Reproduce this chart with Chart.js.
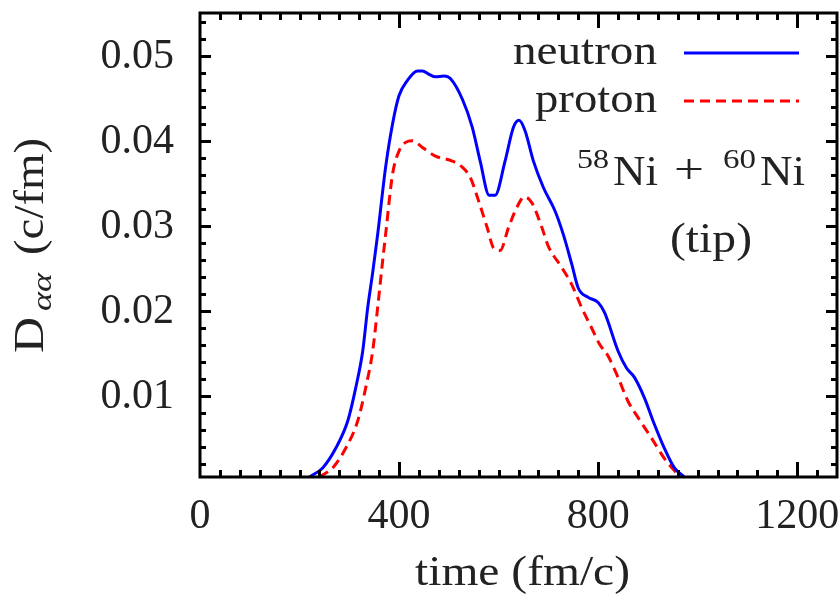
<!DOCTYPE html>
<html>
<head>
<meta charset="utf-8">
<script src="https://cdn.jsdelivr.net/npm/chart.js@4/dist/chart.umd.min.js"></script>
<style>
  html, body { margin: 0; padding: 0; background: #fff; }
  canvas { display: block; }
</style>
</head>
<body>
<canvas id="dChart" width="840" height="599"></canvas>
<script>
// ---- DATA ----
var neutronTime  = [220, 247, 273, 297, 313, 327, 337, 347, 357, 373, 387, 400, 417, 437, 447, 460, 473, 490, 503, 527, 547, 563, 581, 593, 613, 630, 641, 653, 670, 690, 713, 730, 747, 760, 780, 800, 813, 840, 857, 873, 893, 913, 933, 953, 973];
var neutronValue = [0.0005, 0.0016, 0.0039, 0.0071, 0.0110, 0.0153, 0.0204, 0.0245, 0.0290, 0.0369, 0.0420, 0.0453, 0.0471, 0.0482, 0.0482, 0.0478, 0.0475, 0.0476, 0.0473, 0.0449, 0.0416, 0.0376, 0.0336, 0.0336, 0.0376, 0.0416, 0.0424, 0.0412, 0.0376, 0.0345, 0.0318, 0.0290, 0.0255, 0.0227, 0.0216, 0.0210, 0.0198, 0.0153, 0.0133, 0.0122, 0.0098, 0.0067, 0.0039, 0.0016, 0.0005];

var protonTime  = [240, 267, 293, 317, 333, 347, 357, 367, 373, 387, 400, 413, 427, 447, 473, 507, 527, 543, 560, 577, 590, 603, 620, 637, 652, 667, 687, 700, 727, 747, 767, 787, 803, 820, 840, 860, 880, 907, 933, 960];
var protonValue = [0.0005, 0.0016, 0.0039, 0.0071, 0.0110, 0.0153, 0.0204, 0.0259, 0.0290, 0.0361, 0.0388, 0.0398, 0.0400, 0.0392, 0.0382, 0.0376, 0.0369, 0.0357, 0.0329, 0.0298, 0.0274, 0.0271, 0.0298, 0.0322, 0.0334, 0.0327, 0.0298, 0.0276, 0.0251, 0.0231, 0.0204, 0.0180, 0.0161, 0.0147, 0.0122, 0.0094, 0.0075, 0.0051, 0.0027, 0.0008];

var xTicks = [0, 400, 800, 1200];
var yTicks = [0.01, 0.02, 0.03, 0.04, 0.05];
var seriesLabels = ['neutron', 'proton'];

var SERIF = '"Liberation Serif", "DejaVu Serif", serif';
var TXT = '#222';

function toPoints(ts, vs){
  return ts.map(function(t, i){ return {x: t, y: vs[i]}; });
}

// draw text from x (left) stretched to width w -- the original uses a wide TeX font
function fitText(ctx, text, x, y, w){
  var m = ctx.measureText(text).width;
  ctx.save();
  ctx.translate(x, y);
  ctx.scale(w / m, 1);
  ctx.textAlign = 'left';
  ctx.fillText(text, 0, 0);
  ctx.restore();
}

// frame with inward ticks on all four sides, gnuplot style, plus tick labels
var framePlugin = {
  id: 'frame',
  afterDatasetsDraw: function(chart){
    var ctx = chart.ctx, a = chart.chartArea;
    var xs = chart.scales.x, ys = chart.scales.y;
    ctx.save();
    ctx.strokeStyle = '#000';
    ctx.lineWidth = 3;
    ctx.lineCap = 'butt';
    ctx.beginPath();
    // x ticks every 40, major on labels
    for (var t = 40; t < xs.max; t += 40) {
      var px = Math.round(xs.getPixelForValue(t)) + 0.5;
      var len = (t % 400 === 0) ? 15 : 7;
      ctx.moveTo(px, a.bottom); ctx.lineTo(px, a.bottom - len);
      ctx.moveTo(px, a.top);    ctx.lineTo(px, a.top + len);
    }
    // y ticks every 0.002
    for (var k = 1; k * 0.002 < ys.max; k++) {
      var v = k * 0.002;
      if (v < ys.min) continue;
      var py = Math.round(ys.getPixelForValue(v)) + 0.5;
      var l2 = (k % 5 === 0) ? 11 : 6;
      ctx.moveTo(a.left, py);  ctx.lineTo(a.left + l2, py);
      ctx.moveTo(a.right, py); ctx.lineTo(a.right - l2, py);
    }
    ctx.stroke();
    ctx.strokeRect(a.left, a.top, a.right - a.left, a.bottom - a.top);

    // tick labels
    ctx.fillStyle = TXT;
    ctx.font = '42px ' + SERIF;
    ctx.textAlign = 'center';
    ctx.textBaseline = 'alphabetic';
    xTicks.forEach(function(t){
      ctx.fillText(String(t), xs.getPixelForValue(t), 528);
    });
    ctx.textAlign = 'right';
    yTicks.forEach(function(v){
      ctx.fillText(v.toFixed(2), 174, ys.getPixelForValue(v) + 12);
    });
    ctx.restore();
  },
  afterDraw: function(chart){
    var ctx = chart.ctx;
    ctx.save();
    ctx.fillStyle = TXT;
    ctx.textBaseline = 'alphabetic';

    // x title
    ctx.font = '42px ' + SERIF;
    fitText(ctx, 'time (fm/c)', 415, 585, 215);

    // y title, rotated
    ctx.save();
    ctx.translate(43, 353);
    ctx.rotate(-Math.PI / 2);
    ctx.font = '42px ' + SERIF;
    fitText(ctx, 'D', 0, 0, 36);
    ctx.font = 'italic 28px ' + SERIF;
    fitText(ctx, 'αα', 42, 8, 38);
    ctx.font = '42px ' + SERIF;
    fitText(ctx, '(c/fm)', 98, 0, 117);
    ctx.restore();

    // legend: text right-aligned at 657, line sample on the right
    var ds = chart.data.datasets;
    var rows = [{line: 53, base: 64, x: 513, w: 144}, {line: 101, base: 112, x: 535, w: 122}];
    for (var i = 0; i < ds.length; i++) {
      var r = rows[i];
      ctx.font = '42px ' + SERIF;
      ctx.fillStyle = TXT;
      fitText(ctx, ds[i].label, r.x, r.base, r.w);
      ctx.beginPath();
      ctx.strokeStyle = ds[i].borderColor;
      ctx.lineWidth = 3;
      ctx.setLineDash(ds[i].borderDash || []);
      ctx.moveTo(684, r.line); ctx.lineTo(799, r.line);
      ctx.stroke();
      ctx.setLineDash([]);
    }

    // reaction label  58Ni + 60Ni
    ctx.font = '28px ' + SERIF;
    fitText(ctx, '58', 577, 168, 32);
    fitText(ctx, '60', 723, 168, 33);
    ctx.font = '42px ' + SERIF;
    fitText(ctx, 'Ni', 613, 185, 45);
    fitText(ctx, 'Ni', 760, 185, 45);
    ctx.font = '42px ' + SERIF;
    fitText(ctx, '+', 674, 183, 30);
    fitText(ctx, '(tip)', 670, 252, 82);
    ctx.restore();
  }
};

var ctx = document.getElementById('dChart').getContext('2d');
var dChart = new Chart(ctx, {
  type: 'line',
  data: {
    datasets: [{
      label: seriesLabels[0],
      data: toPoints(neutronTime, neutronValue),
      borderColor: '#0000ff',
      borderWidth: 3,
      pointRadius: 0,
      fill: false,
      cubicInterpolationMode: 'monotone'
    }, {
      label: seriesLabels[1],
      data: toPoints(protonTime, protonValue),
      borderColor: '#ff0000',
      borderWidth: 3,
      borderDash: [10, 6],
      pointRadius: 0,
      fill: false,
      cubicInterpolationMode: 'monotone'
    }]
  },
  options: {
    responsive: false,
    animation: false,
    devicePixelRatio: 1,
    layout: { padding: { left: 200, right: 3, top: 13, bottom: 122 } },
    plugins: { legend: { display: false }, tooltip: { enabled: false } },
    scales: {
      x: {
        type: 'linear',
        min: 0, max: 1280,
        grid: { display: false, drawTicks: false },
        border: { display: false },
        ticks: { display: false }
      },
      y: {
        min: 0.0005, max: 0.055,
        grid: { display: false, drawTicks: false },
        border: { display: false },
        ticks: { display: false }
      }
    }
  },
  plugins: [framePlugin]
});
</script>
</body>
</html>
